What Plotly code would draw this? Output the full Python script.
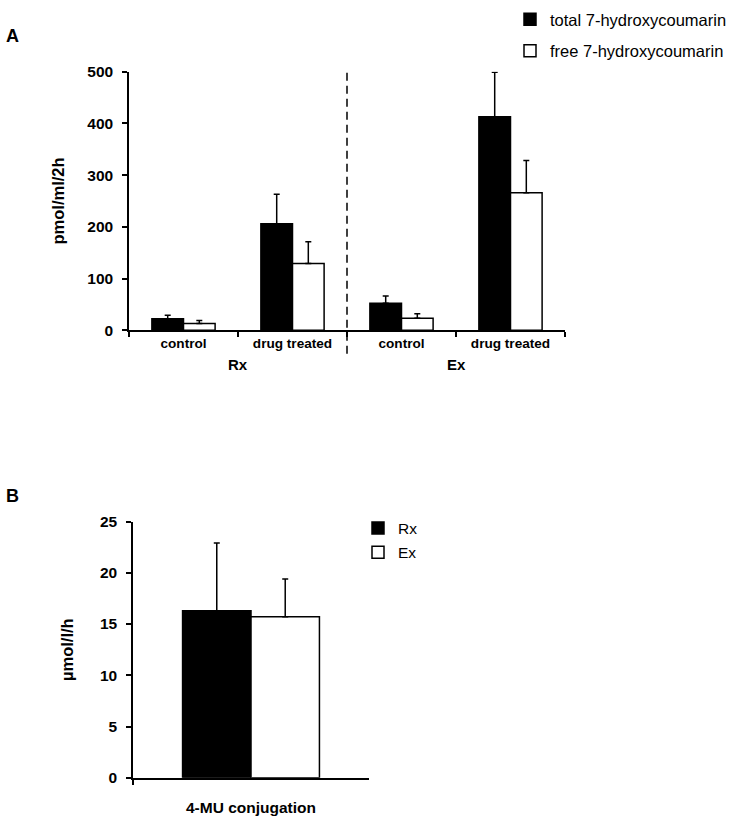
import plotly.graph_objects as go

W, H = 732, 824

# ---- data: panel A ----
a_categories = ["Rx control", "Rx drug treated", "Ex control", "Ex drug treated"]
a_ticktext = ["control", "drug treated", "control", "drug treated"]
a_groups = ["Rx", "Ex"]
total_values = [22, 206, 52, 413]
total_err = [7, 57, 14, 86]
free_values = [13, 129, 23, 266]
free_err = [6, 42, 9, 62]

# ---- data: panel B ----
b_categories = ["4-MU conjugation"]
rx_values = [16.3]
rx_err = [6.6]
ex_values = [15.7]
ex_err = [3.7]

FONT = "Liberation Sans, Arial, sans-serif"


def px_x(p):
    return p / W


def px_y(p):
    return 1 - p / H


fig = go.Figure()

err_style = dict(type="data", symmetric=False, thickness=1.5, width=3, color="black")

fig.add_trace(go.Bar(
    x=a_categories, y=total_values, name="total 7-hydroxycoumarin",
    marker=dict(color="black", line=dict(color="black", width=1.5)),
    error_y=dict(array=total_err, arrayminus=[0] * len(total_err), **err_style),
    xaxis="x", yaxis="y", legend="legend", legendgroup="a1",
))
fig.add_trace(go.Bar(
    x=a_categories, y=free_values, name="free 7-hydroxycoumarin",
    marker=dict(color="white", line=dict(color="black", width=1.5)),
    error_y=dict(array=free_err, arrayminus=[0] * len(free_err), **err_style),
    xaxis="x", yaxis="y", legend="legend", legendgroup="a2",
))
fig.add_trace(go.Bar(
    x=b_categories, y=rx_values, name="Rx",
    marker=dict(color="black", line=dict(color="black", width=1.5)),
    error_y=dict(array=rx_err, arrayminus=[0], **err_style),
    xaxis="x2", yaxis="y2", legend="legend2", legendgroup="b1",
))
fig.add_trace(go.Bar(
    x=b_categories, y=ex_values, name="Ex",
    marker=dict(color="white", line=dict(color="black", width=1.5)),
    error_y=dict(array=ex_err, arrayminus=[0], **err_style),
    xaxis="x2", yaxis="y2", legend="legend2", legendgroup="b2",
))

axis_common = dict(showline=True, linecolor="black", linewidth=1.5, ticks="outside",
                   ticklen=5, tickwidth=1.5, tickcolor="black", showgrid=False,
                   zeroline=False)

fig.update_layout(
    width=W, height=H,
    margin=dict(l=0, r=0, t=0, b=0),
    paper_bgcolor="white", plot_bgcolor="white",
    font=dict(family=FONT, color="black"),
    barmode="group", bargap=0.42, bargroupgap=0,
    xaxis=dict(domain=[px_x(129), px_x(565)], anchor="y",
               categoryorder="array", categoryarray=a_categories,
               tickmode="array", tickvals=a_categories, ticktext=a_ticktext,
               tickson="boundaries", ticklabelstandoff=0,
               tickfont=dict(size=13.6, family=FONT, weight="bold"),
               **axis_common),
    yaxis=dict(domain=[px_y(328), px_y(64)], anchor="x", range=[0, 500], dtick=100,
               tickfont=dict(size=15.5, family=FONT, weight="bold"),
               ticklabelstandoff=6,
               title=dict(text="pmol/ml/2h", standoff=18,
                          font=dict(size=16.5, family=FONT, weight="bold")),
               **axis_common),
    xaxis2=dict(domain=[px_x(133), px_x(369)], anchor="y2",
                tickson="boundaries", ticklabelstandoff=15,
                tickfont=dict(size=15.5, family=FONT, weight="bold"),
                **axis_common),
    yaxis2=dict(domain=[px_y(785), px_y(523.3)], anchor="x2", range=[0, 25], dtick=5,
                tickfont=dict(size=15.5, family=FONT, weight="bold"),
                ticklabelstandoff=6,
                title=dict(text="µmol/l/h", standoff=22,
                           font=dict(size=16.5, family=FONT, weight="bold")),
                **axis_common),
    legend=dict(x=px_x(510), y=1 + 7 / H, xanchor="left", yanchor="top",
                font=dict(size=16.5, family=FONT), tracegroupgap=7,
                bgcolor="rgba(0,0,0,0)", itemclick=False),
    legend2=dict(x=px_x(358), y=px_y(513), xanchor="left", yanchor="top",
                 font=dict(size=15.5, family=FONT), tracegroupgap=1,
                 bgcolor="rgba(0,0,0,0)", itemclick=False),
    showlegend=True,
)

# dashed separator between the Rx and Ex groups (at the category boundary)
fig.add_shape(type="line", xref="x", yref="paper", x0=1.5, x1=1.5,
              y0=px_y(352), y1=px_y(63),
              line=dict(color="black", width=1.5, dash="8px,5px"))

# group labels under the categories
for i, g in enumerate(a_groups):
    fig.add_annotation(x=2 * i + 0.5, xref="x", y=px_y(363), yref="paper",
                       text=g, showarrow=False, xanchor="center", yanchor="middle",
                       font=dict(size=15, family=FONT, weight="bold"))

# panel letters
fig.add_annotation(x=px_x(4), y=px_y(28), xref="paper", yref="paper", text="A",
                   showarrow=False, xanchor="left", yanchor="middle",
                   font=dict(size=18, family=FONT, weight="bold"))
fig.add_annotation(x=px_x(4), y=px_y(497), xref="paper", yref="paper", text="B",
                   showarrow=False, xanchor="left", yanchor="middle",
                   font=dict(size=18, family=FONT, weight="bold"))

fig.write_html("out.html", config={"displayModeBar": False},
               post_script="document.body.style.margin='0';document.body.style.padding='0';")
